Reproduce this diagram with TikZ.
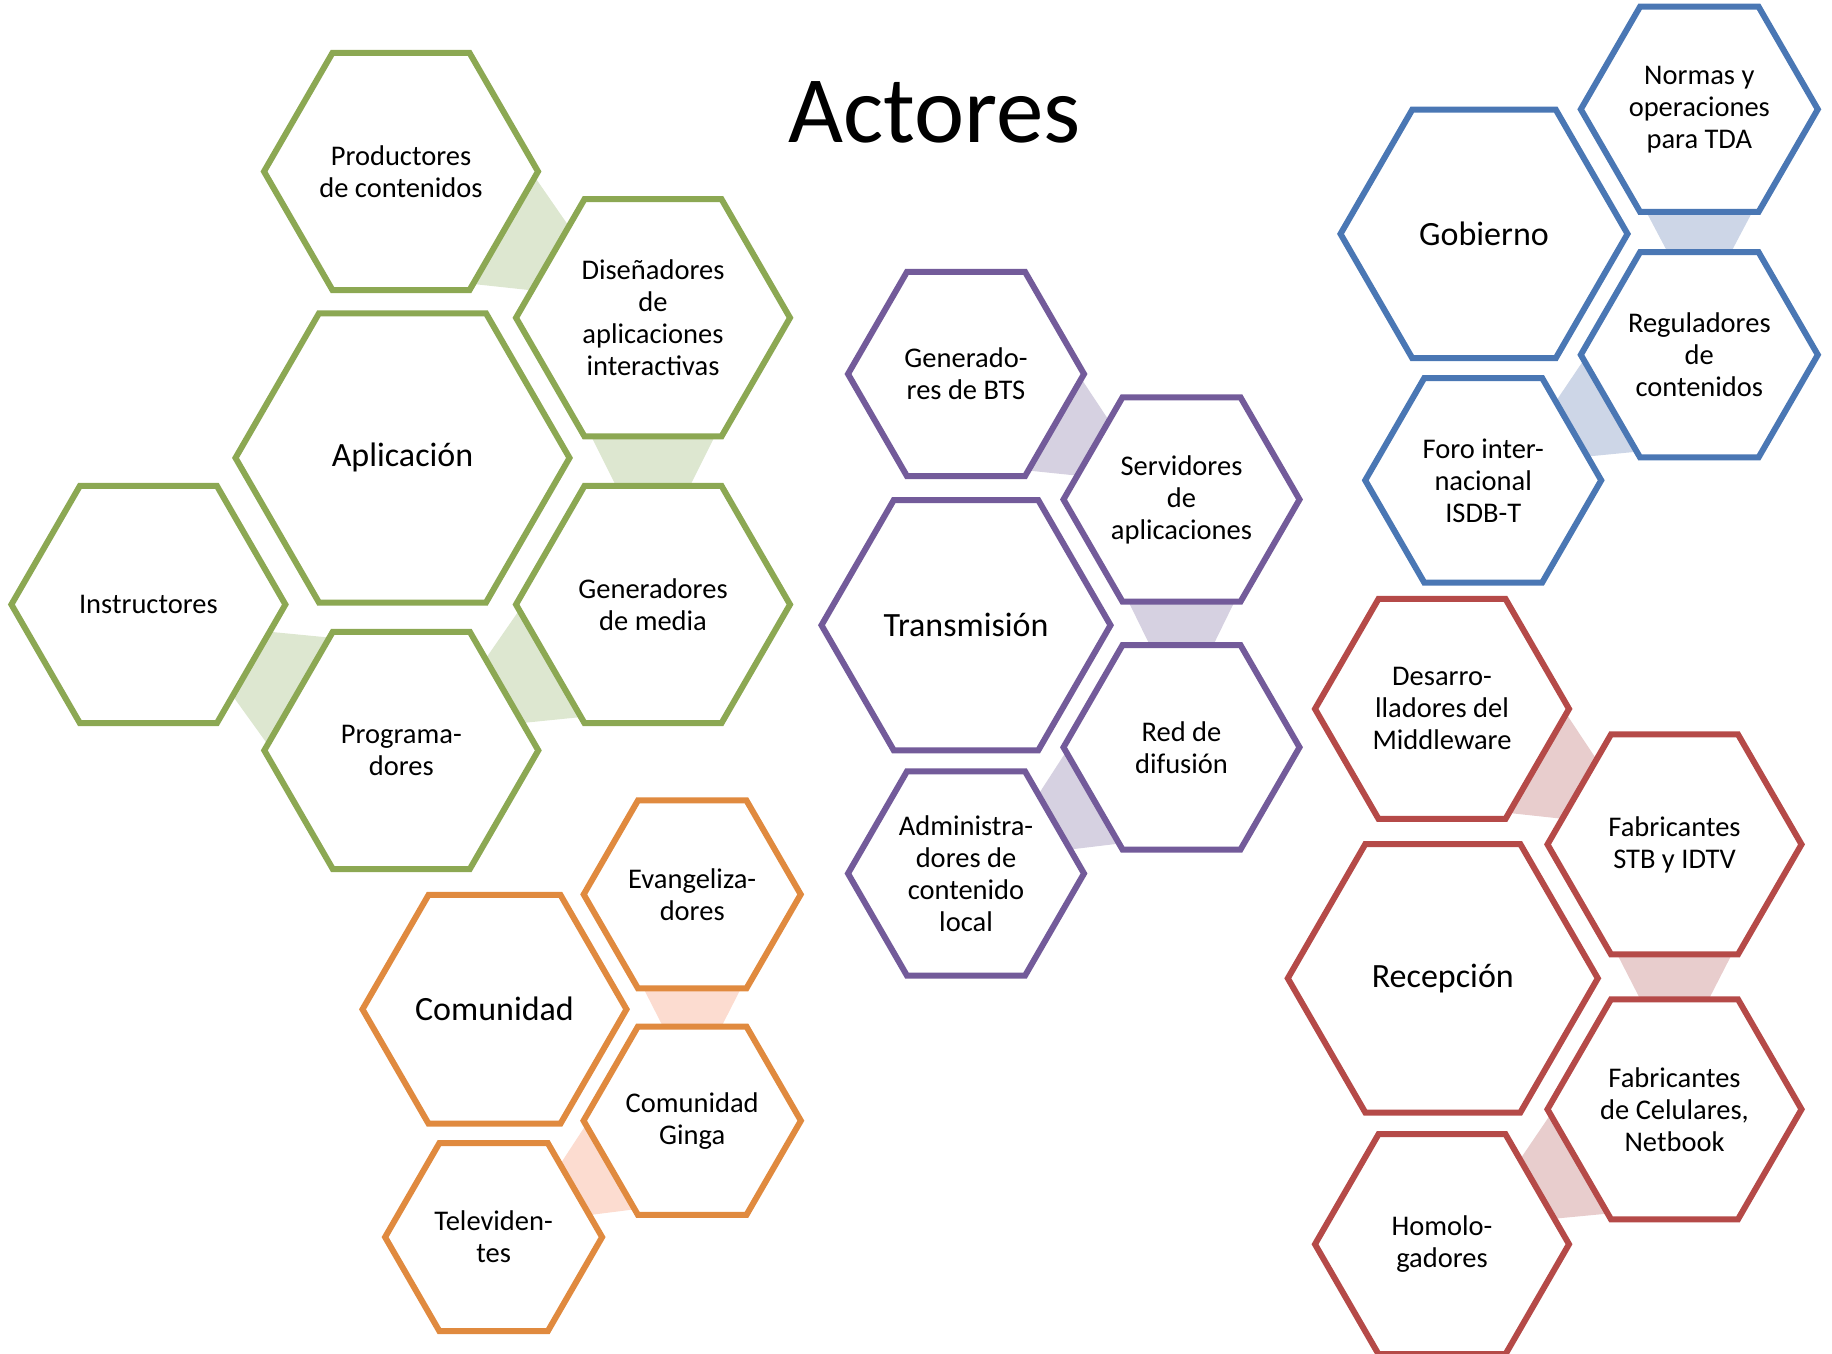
\documentclass[tikz,border=0pt]{standalone}
\usepackage{fontspec}
\setmainfont{Carlito}
\usetikzlibrary{shapes.geometric,calc,backgrounds}
\definecolor{acG}{HTML}{8CA853}
\definecolor{shG}{HTML}{DDE7D0}
\definecolor{acO}{HTML}{E08A3F}
\definecolor{shO}{HTML}{FCDCD0}
\definecolor{acP}{HTML}{735B9A}
\definecolor{shP}{HTML}{D6D1E1}
\definecolor{acB}{HTML}{4A77B4}
\definecolor{shB}{HTML}{CDD6E7}
\definecolor{acR}{HTML}{B54A48}
\definecolor{shR}{HTML}{E8CDCD}
\begin{document}
\begin{tikzpicture}[x=0.4pt, y=-0.4pt,
    hex/.style={regular polygon, regular polygon sides=6, minimum size=#1,
        inner sep=0pt, outer sep=0pt, line width=2.4pt, fill=white,
        align=center, font=\fontsize{11.4}{12.8}\selectfont},
    big/.style={font=\fontsize{13.6}{16}\selectfont}]
    \useasboundingbox (0,0) rectangle (1832,1353);
    \node[anchor=base, font=\fontsize{38}{44}\selectfont] (titulo) at (934.5,142) {Actores};

    % Aplicacion
    \node[hex=109.6pt, draw=acG] (prod) at (401,171.5) {Productores\\de contenidos};
    \node[hex=109.6pt, draw=acG] (dis) at (653,317.8) {Diseñadores\\de\\aplicaciones\\interactivas};
    \node[hex=133.6pt, draw=acG, big] (apl) at (402.5,457.9) {Aplicación};
    \node[hex=109.6pt, draw=acG] (ins) at (148.4,604.5) {Instructores};
    \node[hex=109.6pt, draw=acG] (genm) at (653,604.5) {Generadores\\de media};
    \node[hex=109.6pt, draw=acG] (prog) at (401.3,750.4) {Programa-\\dores};

    % Comunidad
    \node[hex=86.8pt, draw=acO] (evan) at (692.2,894.4) {Evangeliza-\\dores};
    \node[hex=105.6pt, draw=acO, big] (com) at (494.5,1009.3) {Comunidad};
    \node[hex=86.8pt, draw=acO] (ginga) at (692.2,1120.7) {Comunidad\\Ginga};
    \node[hex=86.8pt, draw=acO] (telev) at (493.6,1237.1) {Televiden-\\tes};

    % Transmision
    \node[hex=94.4pt, draw=acP] (bts) at (966,374) {Generado-\\res de BTS};
    \node[hex=94.4pt, draw=acP] (serv) at (1181.5,499.5) {Servidores\\de\\aplicaciones};
    \node[hex=115.6pt, draw=acP, big] (trans) at (966,625.2) {Transmisión};
    \node[hex=94.4pt, draw=acP] (difu) at (1181.5,747.3) {Red de\\difusión};
    \node[hex=94.4pt, draw=acP] (admin) at (966,873.5) {Administra-\\dores de\\contenido\\local};

    % Gobierno
    \node[hex=94.8pt, draw=acB] (normas) at (1699.3,109.3) {Normas y\\operaciones\\para TDA};
    \node[hex=114.8pt, draw=acB, big] (gob) at (1484,233.9) {Gobierno};
    \node[hex=94.8pt, draw=acB] (regul) at (1699.3,354.8) {Reguladores\\de\\contenidos};
    \node[hex=94.4pt, draw=acB] (foro) at (1483.2,480.3) {Foro inter-\\nacional\\ISDB-T};

    % Recepcion
    \node[hex=101.6pt, draw=acR] (desa) at (1442,708.9) {Desarro-\\lladores del\\Middleware};
    \node[hex=101.6pt, draw=acR] (fstb) at (1674.5,844.4) {Fabricantes\\STB y IDTV};
    \node[hex=124pt, draw=acR, big] (recep) at (1442.8,978.3) {Recepción};
    \node[hex=101.6pt, draw=acR] (fcel) at (1674.5,1109.3) {Fabricantes\\de Celulares,\\Netbook};
    \node[hex=101.6pt, draw=acR] (homo) at (1442,1244.2) {Homolo-\\gadores};

    % Uniones
    \begin{scope}[on background layer]
    \foreach \a/\sa/\b/\sb/\c/\wa/\wb in {
        prod/-30/dis/150/shG/24.7pt/14.8pt, dis/-90/genm/90/shG/24.7pt/14.8pt,
        genm/-150/prog/30/shG/24.7pt/14.8pt, prog/150/ins/-30/shG/24.7pt/14.8pt,
        evan/-90/ginga/90/shO/19.5pt/11.7pt, ginga/-150/telev/30/shO/19.5pt/11.7pt,
        bts/-30/serv/150/shP/21.2pt/12.7pt, serv/-90/difu/90/shP/21.2pt/12.7pt,
        difu/-150/admin/30/shP/21.2pt/12.7pt,
        normas/-90/regul/90/shB/21.2pt/12.7pt, regul/-150/foro/30/shB/21.2pt/12.7pt,
        desa/-30/fstb/150/shR/22.9pt/13.7pt, fstb/-90/fcel/90/shR/22.9pt/13.7pt,
        fcel/-150/homo/30/shR/22.9pt/13.7pt} {
        \fill[\c] ($(\a.\sa)!\wa!90:(\b.\sb)$) -- ($(\b.\sb)!\wb!-90:(\a.\sa)$)
            -- ($(\b.\sb)!\wb!90:(\a.\sa)$) -- ($(\a.\sa)!\wa!-90:(\b.\sb)$) -- cycle;
    }
    \end{scope}
\end{tikzpicture}
\end{document}
